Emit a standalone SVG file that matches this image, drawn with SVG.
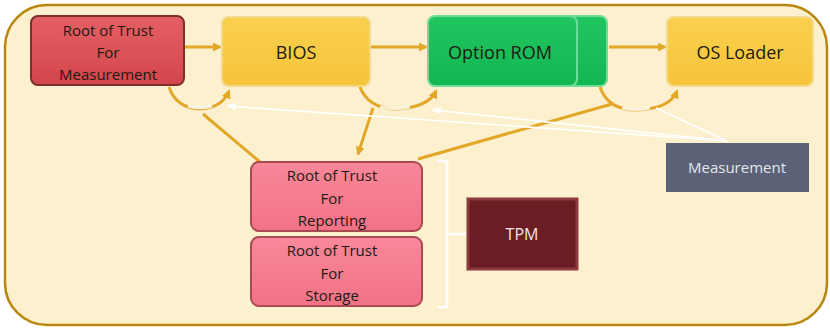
<svg xmlns="http://www.w3.org/2000/svg" width="830" height="328" viewBox="0 0 830 328">
<defs>
<style>
.t{font-family:"Open Sans","Noto Sans","Liberation Sans",sans-serif;fill:#1e1a12;text-anchor:middle;dominant-baseline:central}
.big{font-size:18px}
.mid{font-size:15px}
.gold{fill:none;stroke:#E2A726;stroke-width:3}
.wht{fill:none;stroke:#FFFFFF;stroke-width:1.6}
</style>
<linearGradient id="gRed" x1="0" y1="0" x2="0" y2="1"><stop offset="0" stop-color="#E46065"/><stop offset="1" stop-color="#D2464C"/></linearGradient>
<linearGradient id="gYel" x1="0" y1="0" x2="0" y2="1"><stop offset="0" stop-color="#FAD04E"/><stop offset="1" stop-color="#F6C43A"/></linearGradient>
<linearGradient id="gGrn" x1="0" y1="0" x2="0" y2="1"><stop offset="0" stop-color="#22C660"/><stop offset="1" stop-color="#13B752"/></linearGradient>
<linearGradient id="gPnk" x1="0" y1="0" x2="0" y2="1"><stop offset="0" stop-color="#F8889A"/><stop offset="1" stop-color="#F27286"/></linearGradient>
<marker id="ag" viewBox="0 0 10 10" refX="8" refY="5" markerWidth="3" markerHeight="3" orient="auto"><path d="M0,0 L10,5 L0,10 z" fill="#E2A726"/></marker>
<marker id="aw" viewBox="0 0 10 10" refX="8" refY="5" markerWidth="6" markerHeight="6" orient="auto"><path d="M0,1 L10,5 L0,9 z" fill="#FFFFFF"/></marker>
</defs>
<rect x="0" y="0" width="830" height="328" fill="#FFFFFF"/>
<g id="frame">
<rect x="5" y="5" width="822" height="320" rx="42" ry="42" fill="#FDF0CE" stroke="#B8860E" stroke-width="2.5"/>
</g>
<g id="connectors">
<line class="gold" x1="185" y1="47" x2="220" y2="47" marker-end="url(#ag)"/>
<line class="gold" x1="370" y1="47" x2="426" y2="47" marker-end="url(#ag)"/>
<line class="gold" x1="609" y1="47" x2="665" y2="47" marker-end="url(#ag)"/>
<path class="gold" d="M169,87 Q176,108 200,109 Q222,108 229,91" marker-end="url(#ag)"/>
<path class="gold" d="M360,87 Q368,108 395,109 Q428,108 436,91" marker-end="url(#ag)"/>
<path class="gold" d="M600,87 Q608,110 636,110 Q670,109 677,91" marker-end="url(#ag)"/>
<path d="M188,106 Q200,110 212,106" fill="none" stroke="#FFFFFF" stroke-width="3" opacity="0.8"/>
<path d="M380,107 Q395,110 410,107" fill="none" stroke="#FFFFFF" stroke-width="3" opacity="0.8"/>
<path d="M622,108 Q636,111 650,108" fill="none" stroke="#FFFFFF" stroke-width="3" opacity="0.8"/>
<line class="gold" x1="203" y1="114" x2="260" y2="162"/>
<line class="gold" x1="373" y1="108" x2="358" y2="154" marker-end="url(#ag)"/>
<line class="gold" x1="612" y1="104" x2="418" y2="159"/>
<line class="wht" x1="727" y1="141" x2="228" y2="106" marker-end="url(#aw)"/>
<line class="wht" x1="727" y1="141" x2="433" y2="110" marker-end="url(#aw)"/>
<line class="wht" x1="727" y1="141" x2="656" y2="108"/>
<path d="M437,161 H447 V307 H437 M447,234 H466" fill="none" stroke="#FFFFFF" stroke-width="2.5"/>
</g>
<g id="rtm">
<rect x="31" y="16" width="153" height="69" rx="7" fill="url(#gRed)" stroke="#7E2F2C" stroke-width="2"/>
<text class="t mid" x="108" y="30">Root of Trust</text>
<text class="t mid" x="108" y="52">For</text>
<text class="t mid" x="108" y="74">Measurement</text>
</g>
<g id="bios">
<rect x="222" y="17" width="148" height="69" rx="7" fill="url(#gYel)" stroke="#F3D98A" stroke-width="2"/>
<text class="t big" x="296" y="52">BIOS</text>
</g>
<g id="optionrom">
<rect x="566" y="16" width="41" height="70" rx="7" fill="url(#gGrn)" stroke="#6EDC96" stroke-width="2"/>
<rect x="428" y="16" width="149" height="70" rx="7" fill="url(#gGrn)" stroke="#6EDC96" stroke-width="2"/>
<text class="t big" x="500" y="52">Option ROM</text>
</g>
<g id="osloader">
<rect x="667" y="17" width="146" height="69" rx="7" fill="url(#gYel)" stroke="#F3D98A" stroke-width="2"/>
<text class="t big" x="740" y="52">OS Loader</text>
</g>
<g id="measurement">
<rect x="666" y="143" width="143" height="49" fill="#5B6277"/>
<text class="t" x="737" y="167" style="font-size:15px;fill:#E4E6EC">Measurement</text>
</g>
<g id="rtr">
<rect x="251" y="162" width="171" height="69" rx="8" fill="url(#gPnk)" stroke="#A84A52" stroke-width="2"/>
<text class="t mid" x="332" y="175">Root of Trust</text>
<text class="t mid" x="332" y="198">For</text>
<text class="t mid" x="332" y="220">Reporting</text>
</g>
<g id="rts">
<rect x="251" y="237" width="171" height="69" rx="8" fill="url(#gPnk)" stroke="#A84A52" stroke-width="2"/>
<text class="t mid" x="332" y="250">Root of Trust</text>
<text class="t mid" x="332" y="273">For</text>
<text class="t mid" x="332" y="295">Storage</text>
</g>
<g id="tpm">
<rect x="468" y="199" width="109" height="70" fill="#6A1D22" stroke="#8C3A3F" stroke-width="3"/>
<text class="t" x="522" y="234" style="font-size:16px;fill:#F0E4E4">TPM</text>
</g>
</svg>
